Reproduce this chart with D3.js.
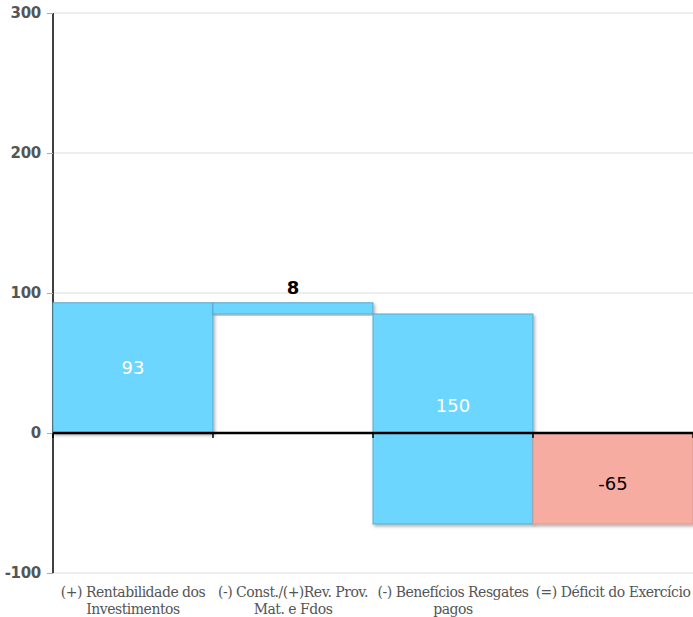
<!DOCTYPE html>
<html><head><meta charset="utf-8">
<script src="https://cdn.jsdelivr.net/npm/d3@7"></script>
<style>body{margin:0;background:#fff}</style>
</head><body>
<svg id="c" width="693" height="617"></svg>
<script>
const categories = ["(+) Rentabilidade dos|Investimentos","(-) Const./(+)Rev. Prov.|Mat. e Fdos","(-) Benefícios Resgates|pagos","(=) Déficit do Exercício"];
const barStart = [0, 85, 85, 0];
const barEnd = [93, 93, -65, -65];
const labels = ["93", "8", "150", "-65"];
const labelPos = [47, 104, 20, -36];
const labelColor = ["#fff", "#000", "#fff", "#000"];
const barColor = ["#6dd6fe", "#6dd6fe", "#6dd6fe", "#f6aca0"];
const yTicks = [-100, 0, 100, 200, 300];

const svg = d3.select("#c");
const x = d3.scaleBand().domain(categories).range([53, 693]).padding(0);
const y = d3.scaleLinear().domain([-100, 300]).range([573, 13]);

const defs = svg.append("defs");
const f = defs.append("filter").attr("id","sh").attr("x","-5%").attr("y","-5%").attr("width","115%").attr("height","115%");
f.append("feDropShadow").attr("dx",1.5).attr("dy",2).attr("stdDeviation",1.5).attr("flood-color","#000").attr("flood-opacity",0.3);

// grid
svg.append("g").selectAll("line").data(yTicks.filter(d=>d!==0)).join("line")
  .attr("x1",53).attr("x2",693).attr("y1",d=>y(d)).attr("y2",d=>y(d))
  .attr("stroke","#dcdcdc").attr("stroke-width",1);

// y axis
const ya = svg.append("g").attr("transform","translate(53,0)")
  .call(d3.axisLeft(y).tickValues(yTicks).tickSize(6).tickPadding(6).tickFormat(d=>String(d)));
ya.select(".domain").attr("stroke","#000").attr("stroke-width",1.5).attr("d","M0,13V573");
ya.selectAll(".tick line").attr("stroke","#aaa");
ya.selectAll(".tick text").attr("font-family","DejaVu Sans").attr("font-weight","bold")
  .attr("font-size",15).attr("fill","#555").attr("letter-spacing","-0.3px");

// bars
svg.append("g").selectAll("rect").data(categories).join("rect")
  .attr("x",d=>x(d)).attr("width",x.bandwidth())
  .attr("y",(d,i)=>y(Math.max(barStart[i],barEnd[i])))
  .attr("height",(d,i)=>Math.abs(y(barStart[i])-y(barEnd[i])))
  .attr("fill",(d,i)=>barColor[i])
  .attr("stroke",(d,i)=>i===3?"#d99a90":"#5aa8cc").attr("stroke-width",1)
  .attr("filter","url(#sh)");

// zero axis
const xa = svg.append("g").attr("transform",`translate(0,${y(0)})`)
  .call(d3.axisBottom(x).tickSize(0).tickFormat(""));
xa.select(".domain").attr("stroke","#000").attr("stroke-width",2.5).attr("d","M53,0H693");
svg.append("g").selectAll("line").data(categories).join("line")
  .attr("x1",d=>x(d)+x.bandwidth()).attr("x2",d=>x(d)+x.bandwidth())
  .attr("y1",y(0)).attr("y2",y(0)+5).attr("stroke","#000").attr("stroke-width",1.5);
svg.append("line").attr("x1",53).attr("x2",53).attr("y1",y(0)).attr("y2",y(0)+5).attr("stroke","#000").attr("stroke-width",1.5);

// labels
svg.append("g").selectAll("text").data(categories).join("text")
  .attr("x",d=>x(d)+x.bandwidth()/2).attr("y",(d,i)=>y(labelPos[i]))
  .attr("text-anchor","middle").attr("dominant-baseline","central")
  .attr("font-family","DejaVu Sans").attr("font-size",18)
  .attr("font-weight",(d,i)=>i===1?"bold":"normal")
  .attr("fill",(d,i)=>labelColor[i]).text((d,i)=>labels[i]);

// category labels
const cl = svg.append("g").selectAll("text").data(categories).join("text")
  .attr("text-anchor","middle").attr("font-family","DejaVu Serif").attr("font-size",14)
  .attr("fill","#555").attr("letter-spacing","-0.5px");
cl.each(function(d){
  const parts = d.split("|");
  const t = d3.select(this);
  parts.forEach((p,j)=>t.append("tspan").attr("x",x(d)+x.bandwidth()/2).attr("y",597+j*17).text(p));
});
</script>
</body></html>
